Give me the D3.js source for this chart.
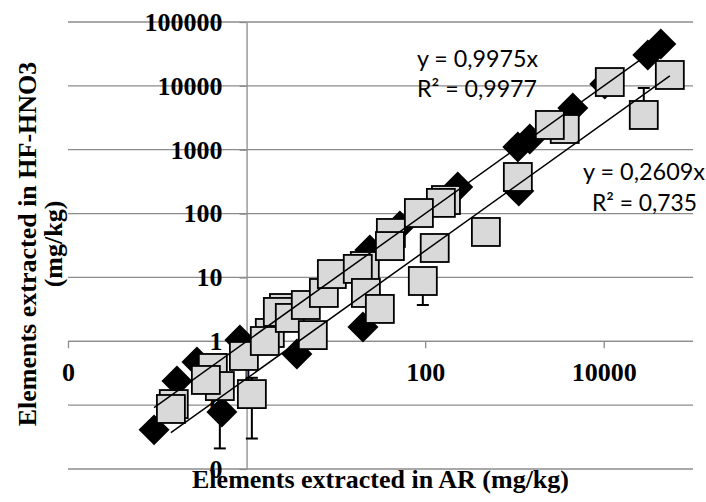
<!DOCTYPE html>
<html>
<head>
<meta charset="utf-8">
<script src="https://cdn.jsdelivr.net/npm/d3@7"></script>
<style>
  html, body { margin: 0; padding: 0; background: #fff; }
  svg { display: block; }
</style>
</head>
<body>
<svg id="chart" width="706" height="502"></svg>
<script>
// series 1 - black diamonds (AR vs HF-HNO3, mg/kg)
const diamondAR = [0.092, 0.166, 0.529, 0.278, 0.841, 3.66, 20.1, 24.0, 52.1, 232,
                   1120, 1092, 1486, 4508, 10280, 31200, 43600];
const diamondHF = [0.041, 0.239, 0.078, 0.474, 1.05, 0.633, 1.67, 26.9, 63.9, 261,
                   226, 1104, 1472, 4500, 10690, 30400, 45200];

// series 2 - grey squares, with error bars (0 = no bar)
const squareAR = [0.153, 0.142, 0.419, 0.502, 0.350, 1.146, 1.82, 0.933, 1.60, 2.62,
                  2.24, 3.05, 4.61, 5.52, 7.34, 9.02, 21.1, 17.6, 21.7, 31.1,
                  41.3, 40.3, 128, 94.2, 171, 150, 85.1, 479, 1092, 3660,
                  2490, 11700, 28100, 55000];
const squareHF = [0.104, 0.0871, 0.382, 0.199, 0.248, 0.149, 1.35, 0.589, 1.01, 3.32,
                  2.88, 2.32, 3.70, 1.25, 5.71, 11.3, 15.1, 13.6, 5.71, 3.21,
                  49.7, 31.0, 28.9, 8.79, 163, 147, 102, 51.5, 374, 2110,
                  2440, 11480, 3500, 14800];
const squareErr = [0, 0, 0, 0.178, 0, 0.119, 0, 0, 0, 0,
                   0, 0, 0, 0, 0, 0, 0, 0, 0, 0,
                   0, 0, 0, 5.09, 0, 0, 0, 0, 0, 0,
                   0, 0, 5770, 0];

const slopes = [0.9975, 0.2609];
const eqLines = [["y = 0,9975x", "R² = 0,9977"], ["y = 0,2609x", "R² = 0,735"]];

const xTicks = [0.01, 1, 100, 10000];
const xTickLabels = ["0", "1", "100", "10000"];
const yTicks = [0.01, 0.1, 1, 10, 100, 1000, 10000, 100000];
const yTickLabels = ["0", "0", "1", "10", "100", "1000", "10000", "100000"];

const svg = d3.select("#chart");
const serif = "'Liberation Serif', 'Times New Roman', serif";

const x = d3.scaleLog().domain([0.01, 100000]).range([68, 693]);
const y = d3.scaleLog().domain([0.01, 100000]).range([469, 22]);

// horizontal gridlines
svg.append("g")
  .selectAll("line")
  .data(yTicks)
  .enter()
  .append("line")
  .attr("x1", x(0.01))
  .attr("x2", x(100000))
  .attr("y1", d => y(d))
  .attr("y2", d => y(d))
  .attr("stroke", "#8c8c8c")
  .attr("stroke-width", 1.3);

// axes cross at (1, 1)
const xAxis = svg.append("g")
  .attr("transform", `translate(0,${y(1)})`)
  .call(d3.axisBottom(x).tickValues(xTicks).tickFormat((d, i) => xTickLabels[i])
    .tickSize(7).tickSizeOuter(0).tickPadding(14));

const yAxis = svg.append("g")
  .attr("transform", `translate(${x(1)},0)`)
  .call(d3.axisLeft(y).tickValues(yTicks).tickFormat((d, i) => yTickLabels[i])
    .tickSize(7).tickSizeOuter(0).tickPadding(17));

[xAxis, yAxis].forEach(g => {
  g.select(".domain").attr("stroke", "#8c8c8c").attr("stroke-width", 1.3);
  g.selectAll(".tick line").attr("stroke", "#8c8c8c").attr("stroke-width", 1.3);
  g.selectAll(".tick text")
    .attr("fill", "#000")
    .style("font-family", serif)
    .style("font-weight", "bold")
    .style("font-size", "26px");
});
xAxis.select(".domain").attr("d", `M${x(0.01)},0H${x(100000)}`);

// axis titles
svg.append("text")
  .attr("x", (x(0.01) + x(100000)) / 2)
  .attr("y", 488)
  .attr("text-anchor", "middle")
  .style("font-family", serif)
  .style("font-weight", "bold")
  .style("font-size", "26px")
  .text("Elements extracted in AR (mg/kg)");

const yTitle = svg.append("text")
  .attr("transform", "translate(0,244) rotate(-90)")
  .attr("text-anchor", "middle")
  .style("font-family", serif)
  .style("font-weight", "bold")
  .style("font-size", "26px");
yTitle.append("tspan").attr("x", 0).attr("y", 36).text("Elements extracted in HF-HNO3");
yTitle.append("tspan").attr("x", 0).attr("y", 62).text("(mg/kg)");

// error bars (minus side dropped when it goes below zero)
const bars = squareAR.map((v, i) => ({ ar: v, hf: squareHF[i], e: squareErr[i] }))
  .filter(d => d.e > 0);
const barG = svg.append("g").attr("stroke", "#000").attr("stroke-width", 2);
bars.forEach(d => {
  const hi = d.hf + d.e;
  const lo = d.hf - d.e;
  const ends = [hi];
  if (lo > 0) ends.push(lo);
  ends.forEach(v => {
    barG.append("line")
      .attr("x1", x(d.ar)).attr("x2", x(d.ar))
      .attr("y1", y(d.hf)).attr("y2", y(v));
    barG.append("line")
      .attr("x1", x(d.ar) - 6).attr("x2", x(d.ar) + 6)
      .attr("y1", y(v)).attr("y2", y(v));
  });
});

// diamonds
svg.append("g")
  .selectAll("path")
  .data(diamondAR.map((v, i) => [v, diamondHF[i]]))
  .enter()
  .append("path")
  .attr("d", d3.symbol().type(d3.symbolSquare).size(480))
  .attr("transform", d => `translate(${x(d[0])},${y(d[1])}) rotate(45)`)
  .attr("fill", "#000");

// squares
const side = 28;
svg.append("g")
  .selectAll("rect")
  .data(squareAR.map((v, i) => [v, squareHF[i]]))
  .enter()
  .append("rect")
  .attr("x", d => x(d[0]) - side / 2)
  .attr("y", d => y(d[1]) - side / 2)
  .attr("width", side)
  .attr("height", side)
  .attr("fill", "#d9d9d9")
  .attr("stroke", "#000")
  .attr("stroke-width", 1.8);

// linear trendlines through the origin
[[diamondAR, slopes[0]], [squareAR, slopes[1]]].forEach(([xs, k]) => {
  const ext = d3.extent(xs);
  svg.append("path")
    .attr("d", d3.line()(ext.map(v => [x(v), y(k * v)])))
    .attr("stroke", "#000")
    .attr("stroke-width", 1.5)
    .attr("fill", "none");
});

// trendline equations
const eqPos = [[417, 67, 121, 97, 120], [583, 180, 122, 211, 105]];
eqLines.forEach((lines, i) => {
  const p = eqPos[i];
  [[lines[0], p[1], p[2]], [lines[1], p[3], p[4]]].forEach(([t, yy, w]) => {
    svg.append("text")
      .attr("x", p[0] + (i === 1 && t.startsWith("R") ? 9 : 0))
      .attr("y", yy)
      .attr("textLength", w)
      .attr("lengthAdjust", "spacingAndGlyphs")
      .style("font-family", "Lato, 'Open Sans', sans-serif")
      .style("font-size", "24px")
      .text(t);
  });
});
</script>
</body>
</html>
